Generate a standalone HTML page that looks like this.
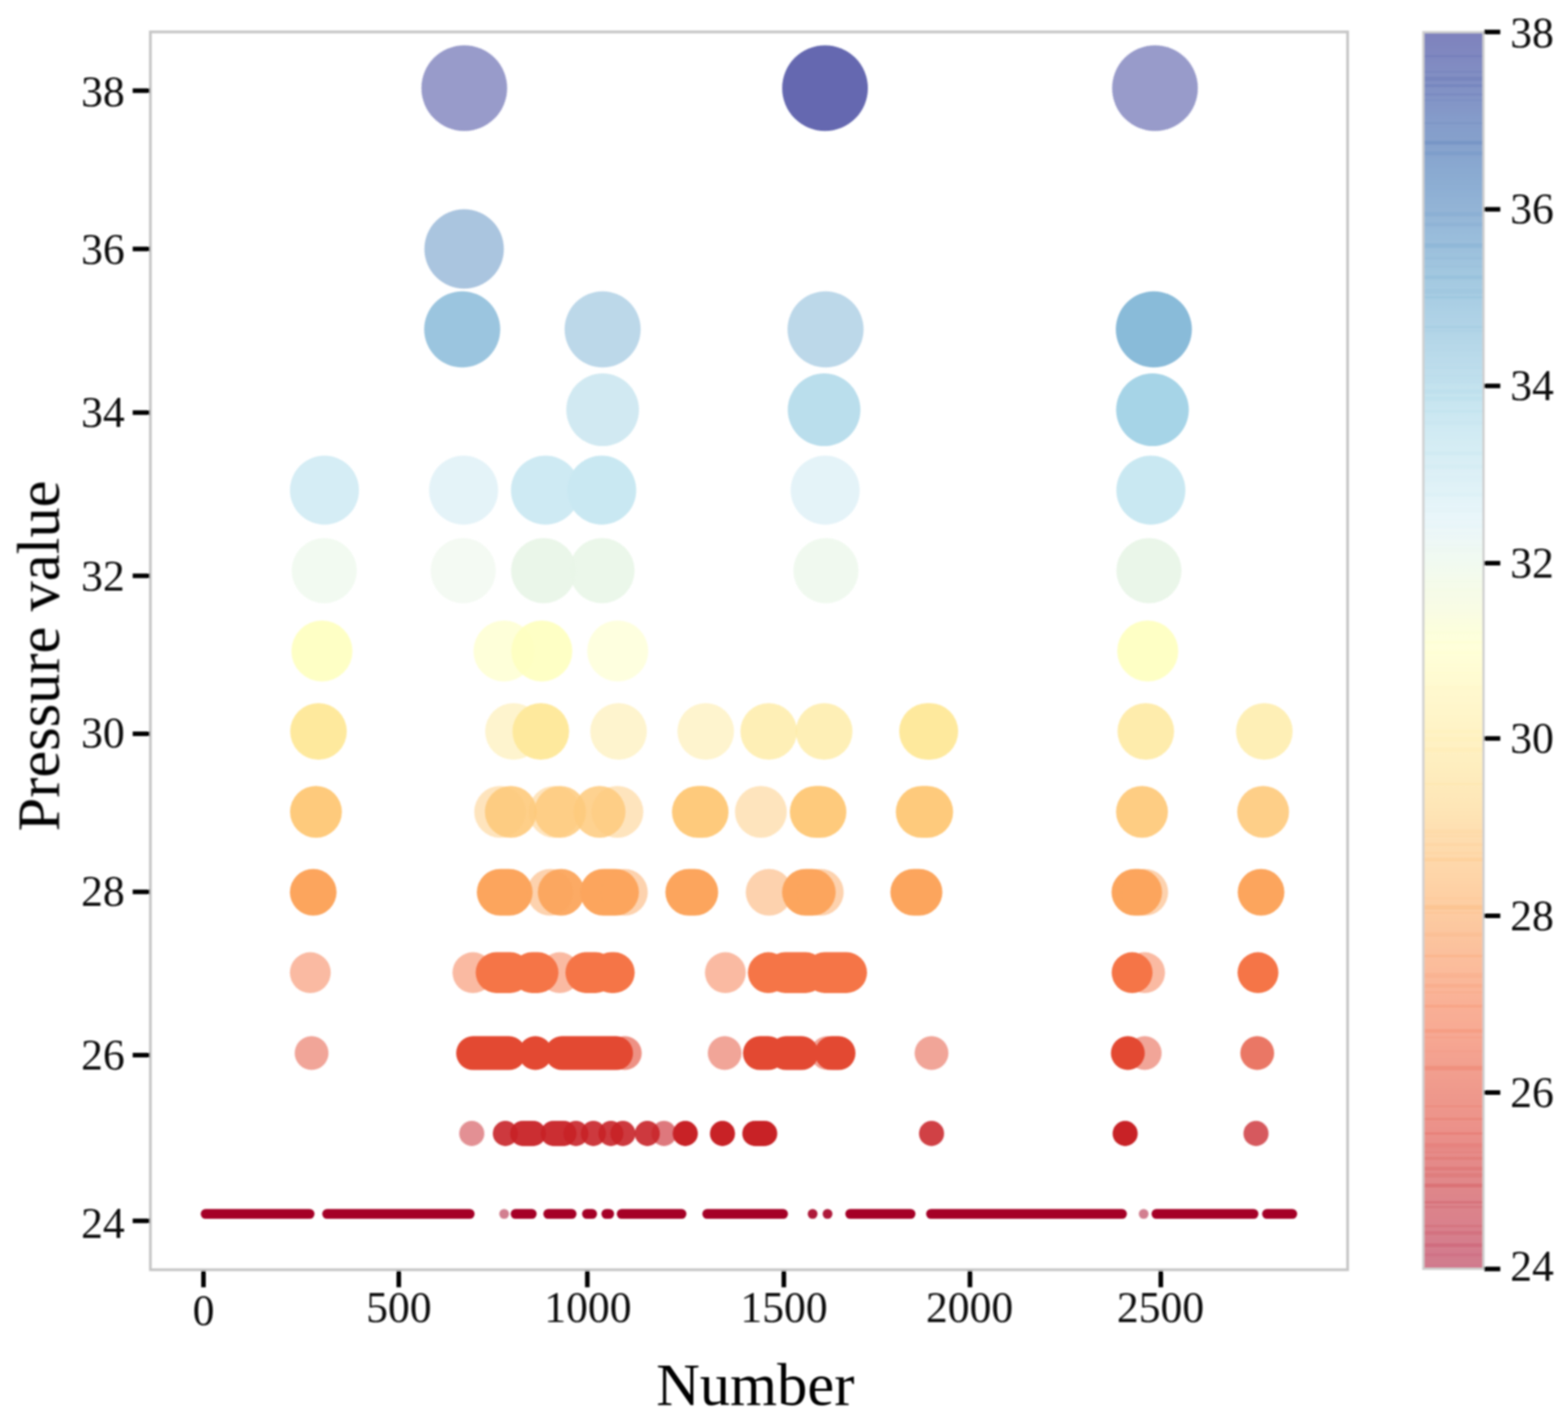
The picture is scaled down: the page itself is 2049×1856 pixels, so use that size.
<!DOCTYPE html>
<html lang="en"><head><meta charset="utf-8"><title>Pressure value scatter</title>
<style>html,body{margin:0;padding:0;background:#fff}body{width:2049px;height:1856px;overflow:hidden}svg{display:block}text{font-family:'Liberation Serif',serif;fill:#111}</style>
</head><body>
<svg width="2049" height="1856" viewBox="0 0 2049 1856">
<defs>
<filter id="b" x="-5%" y="-5%" width="110%" height="110%"><feGaussianBlur stdDeviation="1.1"/></filter>
<filter id="bt" x="-5%" y="-20%" width="110%" height="140%"><feGaussianBlur stdDeviation="1.15"/></filter>
<linearGradient id="cb" x1="0" y1="0" x2="0" y2="1">
<stop offset="0.0000" stop-color="#7f82bd"/>
<stop offset="0.0179" stop-color="#8088c0"/>
<stop offset="0.0357" stop-color="#828fc3"/>
<stop offset="0.0536" stop-color="#8394c6"/>
<stop offset="0.0714" stop-color="#859cca"/>
<stop offset="0.0893" stop-color="#86a1cc"/>
<stop offset="0.1071" stop-color="#89a8d0"/>
<stop offset="0.1250" stop-color="#8daed3"/>
<stop offset="0.1429" stop-color="#93b4d6"/>
<stop offset="0.1607" stop-color="#98bbda"/>
<stop offset="0.1786" stop-color="#9dc1dd"/>
<stop offset="0.1964" stop-color="#a3c8e0"/>
<stop offset="0.2143" stop-color="#a8cde3"/>
<stop offset="0.2321" stop-color="#afd2e6"/>
<stop offset="0.2500" stop-color="#b5d7e8"/>
<stop offset="0.2679" stop-color="#bcdceb"/>
<stop offset="0.2857" stop-color="#c3e2ee"/>
<stop offset="0.3036" stop-color="#c9e6f1"/>
<stop offset="0.3214" stop-color="#d0eaf3"/>
<stop offset="0.3393" stop-color="#d6edf4"/>
<stop offset="0.3571" stop-color="#ddf0f6"/>
<stop offset="0.3750" stop-color="#e2f3f8"/>
<stop offset="0.3929" stop-color="#e9f6fa"/>
<stop offset="0.4107" stop-color="#eef8f6"/>
<stop offset="0.4286" stop-color="#f1faf1"/>
<stop offset="0.4464" stop-color="#f5fbea"/>
<stop offset="0.4643" stop-color="#f8fce5"/>
<stop offset="0.4821" stop-color="#fcfede"/>
<stop offset="0.5000" stop-color="#ffffd9"/>
<stop offset="0.5179" stop-color="#fffcd3"/>
<stop offset="0.5357" stop-color="#fff8ce"/>
<stop offset="0.5536" stop-color="#fff5c9"/>
<stop offset="0.5714" stop-color="#fff2c4"/>
<stop offset="0.5893" stop-color="#feefc0"/>
<stop offset="0.6071" stop-color="#feeabb"/>
<stop offset="0.6250" stop-color="#fee6b7"/>
<stop offset="0.6429" stop-color="#fee0b2"/>
<stop offset="0.6607" stop-color="#fedaac"/>
<stop offset="0.6786" stop-color="#fed6a9"/>
<stop offset="0.6964" stop-color="#fed0a4"/>
<stop offset="0.7143" stop-color="#fdcba1"/>
<stop offset="0.7321" stop-color="#fcc49e"/>
<stop offset="0.7500" stop-color="#fbbe9c"/>
<stop offset="0.7679" stop-color="#fab799"/>
<stop offset="0.7857" stop-color="#f9b096"/>
<stop offset="0.8036" stop-color="#f8ab94"/>
<stop offset="0.8214" stop-color="#f5a491"/>
<stop offset="0.8393" stop-color="#f29f8f"/>
<stop offset="0.8571" stop-color="#ef998c"/>
<stop offset="0.8750" stop-color="#ed958b"/>
<stop offset="0.8929" stop-color="#ea8f89"/>
<stop offset="0.9107" stop-color="#e58b89"/>
<stop offset="0.9286" stop-color="#e1888a"/>
<stop offset="0.9464" stop-color="#dc848b"/>
<stop offset="0.9643" stop-color="#d9818c"/>
<stop offset="0.9821" stop-color="#d47d8d"/>
<stop offset="1.0000" stop-color="#d07a8e"/>
</linearGradient>
</defs>
<rect width="2049" height="1856" fill="#fff"/>
<g filter="url(#b)">
<rect x="196.5" y="41.7" width="1564.5" height="1617.9" fill="none" stroke="#c6c6c6" stroke-width="3.6"/>
<g fill="#a50026">
<rect x="262.3" y="1580.2" width="148.7" height="12.8" rx="6.4" fill-opacity="1.00"/>
<rect x="421.1" y="1580.2" width="199.1" height="12.8" rx="6.4" fill-opacity="1.00"/>
<circle cx="658.8" cy="1586.6" r="6.4" fill-opacity="0.50"/>
<rect x="667.3" y="1580.2" width="34.0" height="12.8" rx="6.4" fill-opacity="1.00"/>
<rect x="710.0" y="1580.2" width="43.4" height="12.8" rx="6.4" fill-opacity="1.00"/>
<rect x="760.6" y="1580.2" width="19.6" height="12.8" rx="6.4" fill-opacity="1.00"/>
<rect x="785.9" y="1580.2" width="16.6" height="12.8" rx="6.4" fill-opacity="1.00"/>
<rect x="806.0" y="1580.2" width="91.0" height="12.8" rx="6.4" fill-opacity="1.00"/>
<rect x="917.8" y="1580.2" width="111.9" height="12.8" rx="6.4" fill-opacity="1.00"/>
<circle cx="1061.9" cy="1586.6" r="6.4" fill-opacity="0.90"/>
<circle cx="1081.4" cy="1586.6" r="6.4" fill-opacity="0.90"/>
<rect x="1104.6" y="1580.2" width="91.7" height="12.8" rx="6.4" fill-opacity="1.00"/>
<rect x="1210.2" y="1580.2" width="262.4" height="12.8" rx="6.4" fill-opacity="1.00"/>
<circle cx="1494.5" cy="1586.6" r="6.4" fill-opacity="0.50"/>
<rect x="1504.8" y="1580.2" width="139.7" height="12.8" rx="6.4" fill-opacity="1.00"/>
<rect x="1649.3" y="1580.2" width="45.8" height="12.8" rx="6.4" fill-opacity="1.00"/>
</g>
<g fill="#c82227">
<circle cx="616.5" cy="1481.5" r="16.4" fill-opacity="0.50"/>
<circle cx="660.4" cy="1481.5" r="16.4" fill-opacity="0.90"/>
<rect x="666.6" y="1465.1" width="46.8" height="32.8" rx="16.4" fill-opacity="0.95"/>
<rect x="706.6" y="1465.1" width="46.8" height="32.8" rx="16.4" fill-opacity="0.95"/>
<circle cx="752.6" cy="1481.5" r="16.4" fill-opacity="0.90"/>
<circle cx="775.4" cy="1481.5" r="16.4" fill-opacity="0.90"/>
<circle cx="798.3" cy="1481.5" r="16.4" fill-opacity="0.90"/>
<circle cx="814.0" cy="1481.5" r="16.4" fill-opacity="0.90"/>
<circle cx="845.9" cy="1481.5" r="16.4" fill-opacity="0.90"/>
<circle cx="867.7" cy="1481.5" r="16.4" fill-opacity="0.60"/>
<circle cx="895.5" cy="1481.5" r="16.4" fill-opacity="1.00"/>
<circle cx="944.1" cy="1481.5" r="16.4" fill-opacity="1.00"/>
<rect x="970.0" y="1465.1" width="45.7" height="32.8" rx="16.4" fill-opacity="1.00"/>
<circle cx="1217.3" cy="1481.5" r="16.4" fill-opacity="0.85"/>
<circle cx="1470.3" cy="1481.5" r="16.4" fill-opacity="1.00"/>
<circle cx="1641.3" cy="1481.5" r="16.4" fill-opacity="0.75"/>
</g>
<g fill="#e34933">
<circle cx="407.2" cy="1376.4" r="22.1" fill-opacity="0.50"/>
<rect x="596.1" y="1354.3" width="90.9" height="44.3" rx="22.1" fill-opacity="1.00"/>
<circle cx="699.6" cy="1376.4" r="22.1" fill-opacity="1.00"/>
<rect x="712.3" y="1354.3" width="114.9" height="44.3" rx="22.1" fill-opacity="1.00"/>
<circle cx="816.5" cy="1376.4" r="22.1" fill-opacity="0.60"/>
<circle cx="947.0" cy="1376.4" r="22.1" fill-opacity="0.50"/>
<rect x="970.9" y="1354.3" width="55.1" height="44.3" rx="22.1" fill-opacity="1.00"/>
<rect x="1005.2" y="1354.3" width="64.3" height="44.3" rx="22.1" fill-opacity="1.00"/>
<circle cx="1081.0" cy="1376.4" r="22.1" fill-opacity="0.50"/>
<rect x="1064.9" y="1354.3" width="53.0" height="44.3" rx="22.1" fill-opacity="1.00"/>
<circle cx="1217.3" cy="1376.4" r="22.1" fill-opacity="0.50"/>
<circle cx="1473.8" cy="1376.4" r="22.1" fill-opacity="1.00"/>
<circle cx="1495.9" cy="1376.4" r="22.1" fill-opacity="0.50"/>
<circle cx="1642.9" cy="1376.4" r="22.1" fill-opacity="0.75"/>
</g>
<g fill="#f57547">
<circle cx="405.5" cy="1271.3" r="26.7" fill-opacity="0.50"/>
<circle cx="618.0" cy="1271.3" r="26.7" fill-opacity="0.50"/>
<rect x="621.6" y="1244.6" width="72.0" height="53.3" rx="26.7" fill-opacity="1.00"/>
<rect x="668.4" y="1244.6" width="61.4" height="53.3" rx="26.7" fill-opacity="1.00"/>
<circle cx="731.5" cy="1271.3" r="26.7" fill-opacity="0.50"/>
<rect x="738.9" y="1244.6" width="66.2" height="53.3" rx="26.7" fill-opacity="1.00"/>
<rect x="772.0" y="1244.6" width="57.4" height="53.3" rx="26.7" fill-opacity="1.00"/>
<circle cx="947.9" cy="1271.3" r="26.7" fill-opacity="0.50"/>
<circle cx="1004.0" cy="1271.3" r="26.7" fill-opacity="1.00"/>
<rect x="999.3" y="1244.6" width="80.1" height="53.3" rx="26.7" fill-opacity="1.00"/>
<rect x="1050.9" y="1244.6" width="82.1" height="53.3" rx="26.7" fill-opacity="1.00"/>
<circle cx="1479.4" cy="1271.3" r="26.7" fill-opacity="1.00"/>
<circle cx="1495.7" cy="1271.3" r="26.7" fill-opacity="0.50"/>
<circle cx="1643.9" cy="1271.3" r="26.7" fill-opacity="1.00"/>
</g>
<g fill="#fca55d">
<circle cx="409.3" cy="1166.2" r="30.5" fill-opacity="1.00"/>
<rect x="623.1" y="1135.7" width="72.9" height="61.0" rx="30.5" fill-opacity="1.00"/>
<circle cx="719.0" cy="1166.2" r="30.5" fill-opacity="0.50"/>
<circle cx="733.3" cy="1166.2" r="30.5" fill-opacity="0.95"/>
<rect x="758.0" y="1135.7" width="76.9" height="61.0" rx="30.5" fill-opacity="1.00"/>
<circle cx="816.0" cy="1166.2" r="30.5" fill-opacity="0.50"/>
<rect x="869.5" y="1135.7" width="69.0" height="61.0" rx="30.5" fill-opacity="1.00"/>
<circle cx="1005.0" cy="1166.2" r="30.5" fill-opacity="0.50"/>
<rect x="1022.0" y="1135.7" width="70.0" height="61.0" rx="30.5" fill-opacity="1.00"/>
<circle cx="1072.0" cy="1166.2" r="30.5" fill-opacity="0.50"/>
<rect x="1163.5" y="1135.7" width="68.0" height="61.0" rx="30.5" fill-opacity="1.00"/>
<rect x="1452.5" y="1135.7" width="66.0" height="61.0" rx="30.5" fill-opacity="1.00"/>
<circle cx="1496.0" cy="1166.2" r="30.5" fill-opacity="0.50"/>
<circle cx="1647.9" cy="1166.2" r="30.5" fill-opacity="1.00"/>
</g>
<g fill="#feca7c">
<circle cx="412.9" cy="1061.1" r="33.9" fill-opacity="1.00"/>
<circle cx="653.6" cy="1061.1" r="33.9" fill-opacity="0.50"/>
<circle cx="667.5" cy="1061.1" r="33.9" fill-opacity="0.90"/>
<circle cx="724.6" cy="1061.1" r="33.9" fill-opacity="0.50"/>
<circle cx="732.0" cy="1061.1" r="33.9" fill-opacity="0.85"/>
<circle cx="783.5" cy="1061.1" r="33.9" fill-opacity="0.85"/>
<circle cx="806.8" cy="1061.1" r="33.9" fill-opacity="0.50"/>
<rect x="878.1" y="1027.2" width="73.9" height="67.9" rx="33.9" fill-opacity="1.00"/>
<circle cx="994.3" cy="1061.1" r="33.9" fill-opacity="0.50"/>
<rect x="1032.1" y="1027.2" width="73.9" height="67.9" rx="33.9" fill-opacity="1.00"/>
<rect x="1170.6" y="1027.2" width="74.9" height="67.9" rx="33.9" fill-opacity="1.00"/>
<circle cx="1492.3" cy="1061.1" r="33.9" fill-opacity="0.95"/>
<circle cx="1650.6" cy="1061.1" r="33.9" fill-opacity="0.90"/>
</g>
<g fill="#fee99d">
<circle cx="416.2" cy="956.0" r="37.0" fill-opacity="1.00"/>
<circle cx="671.0" cy="956.0" r="37.0" fill-opacity="0.50"/>
<circle cx="706.7" cy="956.0" r="37.0" fill-opacity="1.00"/>
<circle cx="808.3" cy="956.0" r="37.0" fill-opacity="0.50"/>
<circle cx="922.2" cy="956.0" r="37.0" fill-opacity="0.50"/>
<circle cx="1004.5" cy="956.0" r="37.0" fill-opacity="0.75"/>
<circle cx="1077.0" cy="956.0" r="37.0" fill-opacity="0.75"/>
<rect x="1175.0" y="919.0" width="77.1" height="74.1" rx="37.0" fill-opacity="1.00"/>
<circle cx="1497.3" cy="956.0" r="37.0" fill-opacity="0.85"/>
<circle cx="1652.2" cy="956.0" r="37.0" fill-opacity="0.75"/>
</g>
<g fill="#feffc0">
<circle cx="420.7" cy="850.9" r="39.9" fill-opacity="0.92"/>
<circle cx="658.6" cy="850.9" r="39.9" fill-opacity="0.60"/>
<circle cx="708.0" cy="850.9" r="39.9" fill-opacity="0.92"/>
<circle cx="807.2" cy="850.9" r="39.9" fill-opacity="0.50"/>
<circle cx="1499.8" cy="850.9" r="39.9" fill-opacity="0.92"/>
</g>
<g fill="#e9f6e8">
<circle cx="423.7" cy="745.8" r="42.6" fill-opacity="0.60"/>
<circle cx="605.3" cy="745.8" r="42.6" fill-opacity="0.50"/>
<circle cx="710.4" cy="745.8" r="42.6" fill-opacity="0.95"/>
<circle cx="786.7" cy="745.8" r="42.6" fill-opacity="0.90"/>
<circle cx="1079.3" cy="745.8" r="42.6" fill-opacity="0.70"/>
<circle cx="1501.4" cy="745.8" r="42.6" fill-opacity="0.95"/>
</g>
<g fill="#c9e8f2">
<circle cx="424.0" cy="640.7" r="45.1" fill-opacity="0.78"/>
<circle cx="605.8" cy="640.7" r="45.1" fill-opacity="0.50"/>
<circle cx="712.8" cy="640.7" r="45.1" fill-opacity="0.90"/>
<circle cx="786.3" cy="640.7" r="45.1" fill-opacity="1.00"/>
<circle cx="1078.3" cy="640.7" r="45.1" fill-opacity="0.50"/>
<circle cx="1503.9" cy="640.7" r="45.1" fill-opacity="1.00"/>
</g>
<g fill="#a3d3e6">
<circle cx="787.5" cy="535.6" r="47.5" fill-opacity="0.50"/>
<circle cx="1076.9" cy="535.6" r="47.5" fill-opacity="0.75"/>
<circle cx="1506.0" cy="535.6" r="47.5" fill-opacity="0.97"/>
</g>
<g fill="#7ab2d4">
<circle cx="604.0" cy="430.5" r="49.7" fill-opacity="0.75"/>
<circle cx="787.5" cy="430.5" r="49.7" fill-opacity="0.50"/>
<circle cx="1078.8" cy="430.5" r="49.7" fill-opacity="0.50"/>
<circle cx="1507.8" cy="430.5" r="49.7" fill-opacity="0.88"/>
</g>
<g fill="#588cc0">
<circle cx="606.5" cy="325.4" r="51.9" fill-opacity="0.50"/>
</g>
<g fill="#313695">
<circle cx="606.7" cy="115.2" r="56.0" fill-opacity="0.50"/>
<circle cx="1078.1" cy="115.2" r="56.0" fill-opacity="0.75"/>
<circle cx="1509.3" cy="115.2" r="56.0" fill-opacity="0.50"/>
</g>
<rect x="1860.0" y="42.0" width="78.6" height="1616.5" fill="url(#cb)" stroke="#cfcfcf" stroke-width="3"/>
<rect x="1861.5" y="72.0" width="75.6" height="3.0" fill="#34409a" fill-opacity="0.10"/>
<rect x="1861.5" y="93.0" width="75.6" height="2.0" fill="#374a9f" fill-opacity="0.10"/>
<rect x="1861.5" y="100.0" width="75.6" height="6.0" fill="#384ca0" fill-opacity="0.13"/>
<rect x="1861.5" y="110.0" width="75.6" height="4.0" fill="#394fa1" fill-opacity="0.14"/>
<rect x="1861.5" y="122.0" width="75.6" height="3.0" fill="#3a54a4" fill-opacity="0.12"/>
<rect x="1861.5" y="130.0" width="75.6" height="2.0" fill="#3b56a5" fill-opacity="0.07"/>
<rect x="1861.5" y="160.0" width="75.6" height="2.0" fill="#3f62ab" fill-opacity="0.13"/>
<rect x="1861.5" y="184.0" width="75.6" height="5.0" fill="#426cb0" fill-opacity="0.20"/>
<rect x="1861.5" y="198.0" width="75.6" height="5.0" fill="#4471b2" fill-opacity="0.12"/>
<rect x="1861.5" y="277.0" width="75.6" height="6.0" fill="#5a8ec1" fill-opacity="0.13"/>
<rect x="1861.5" y="291.0" width="75.6" height="5.0" fill="#5e93c3" fill-opacity="0.11"/>
<rect x="1861.5" y="318.0" width="75.6" height="6.0" fill="#659bc8" fill-opacity="0.19"/>
<rect x="1861.5" y="336.0" width="75.6" height="3.0" fill="#6ba2cb" fill-opacity="0.11"/>
<rect x="1861.5" y="347.0" width="75.6" height="3.0" fill="#6ea6ce" fill-opacity="0.08"/>
<rect x="1861.5" y="360.0" width="75.6" height="5.0" fill="#72abd0" fill-opacity="0.19"/>
<rect x="1861.5" y="378.0" width="75.6" height="6.0" fill="#78b0d3" fill-opacity="0.12"/>
<rect x="1861.5" y="387.0" width="75.6" height="3.0" fill="#7ab2d4" fill-opacity="0.19"/>
<rect x="1861.5" y="426.0" width="75.6" height="3.0" fill="#87bdd9" fill-opacity="0.20"/>
<rect x="1861.5" y="431.0" width="75.6" height="3.0" fill="#8abeda" fill-opacity="0.13"/>
<rect x="1861.5" y="456.0" width="75.6" height="2.0" fill="#92c5de" fill-opacity="0.06"/>
<rect x="1861.5" y="479.0" width="75.6" height="3.0" fill="#9bcce2" fill-opacity="0.06"/>
<rect x="1861.5" y="490.0" width="75.6" height="2.0" fill="#9dcee3" fill-opacity="0.14"/>
<rect x="1861.5" y="493.0" width="75.6" height="4.0" fill="#9fd0e4" fill-opacity="0.07"/>
<rect x="1861.5" y="498.0" width="75.6" height="3.0" fill="#a1d1e5" fill-opacity="0.06"/>
<rect x="1861.5" y="509.0" width="75.6" height="6.0" fill="#a3d3e6" fill-opacity="0.19"/>
<rect x="1861.5" y="518.0" width="75.6" height="6.0" fill="#a8d6e8" fill-opacity="0.18"/>
<rect x="1861.5" y="536.0" width="75.6" height="3.0" fill="#aedbea" fill-opacity="0.20"/>
<rect x="1861.5" y="550.0" width="75.6" height="5.0" fill="#b2ddeb" fill-opacity="0.12"/>
<rect x="1861.5" y="590.0" width="75.6" height="5.0" fill="#bfe3ef" fill-opacity="0.21"/>
<rect x="1861.5" y="607.0" width="75.6" height="6.0" fill="#c5e6f0" fill-opacity="0.19"/>
<rect x="1861.5" y="622.0" width="75.6" height="3.0" fill="#c9e8f2" fill-opacity="0.05"/>
<rect x="1861.5" y="626.0" width="75.6" height="4.0" fill="#cbe9f2" fill-opacity="0.05"/>
<rect x="1861.5" y="644.0" width="75.6" height="5.0" fill="#d1ecf4" fill-opacity="0.22"/>
<rect x="1861.5" y="664.0" width="75.6" height="6.0" fill="#d8eff6" fill-opacity="0.07"/>
<rect x="1861.5" y="678.0" width="75.6" height="2.0" fill="#dcf1f7" fill-opacity="0.12"/>
<rect x="1861.5" y="685.0" width="75.6" height="5.0" fill="#def2f7" fill-opacity="0.17"/>
<rect x="1861.5" y="695.0" width="75.6" height="4.0" fill="#e1f3f6" fill-opacity="0.13"/>
<rect x="1861.5" y="700.0" width="75.6" height="6.0" fill="#e2f4f4" fill-opacity="0.15"/>
<rect x="1861.5" y="711.0" width="75.6" height="3.0" fill="#e4f4f1" fill-opacity="0.17"/>
<rect x="1861.5" y="715.0" width="75.6" height="6.0" fill="#e5f5ef" fill-opacity="0.16"/>
<rect x="1861.5" y="759.0" width="75.6" height="2.0" fill="#edf8df" fill-opacity="0.22"/>
<rect x="1861.5" y="769.0" width="75.6" height="5.0" fill="#f0f9db" fill-opacity="0.08"/>
<rect x="1861.5" y="825.0" width="75.6" height="3.0" fill="#fbfdc7" fill-opacity="0.18"/>
<rect x="1861.5" y="838.0" width="75.6" height="3.0" fill="#fdfec2" fill-opacity="0.21"/>
<rect x="1861.5" y="851.0" width="75.6" height="4.0" fill="#fffebe" fill-opacity="0.10"/>
<rect x="1861.5" y="868.0" width="75.6" height="2.0" fill="#fffcba" fill-opacity="0.06"/>
<rect x="1861.5" y="878.0" width="75.6" height="3.0" fill="#fffab7" fill-opacity="0.09"/>
<rect x="1861.5" y="896.0" width="75.6" height="6.0" fill="#fff6b1" fill-opacity="0.06"/>
<rect x="1861.5" y="954.0" width="75.6" height="4.0" fill="#feeba1" fill-opacity="0.16"/>
<rect x="1861.5" y="963.0" width="75.6" height="6.0" fill="#feea9f" fill-opacity="0.11"/>
<rect x="1861.5" y="977.0" width="75.6" height="6.0" fill="#fee699" fill-opacity="0.16"/>
<rect x="1861.5" y="1023.0" width="75.6" height="3.0" fill="#fedc8c" fill-opacity="0.14"/>
<rect x="1861.5" y="1084.0" width="75.6" height="6.0" fill="#fec87a" fill-opacity="0.13"/>
<rect x="1861.5" y="1092.0" width="75.6" height="2.0" fill="#fdc778" fill-opacity="0.14"/>
<rect x="1861.5" y="1102.0" width="75.6" height="4.0" fill="#fdc576" fill-opacity="0.13"/>
<rect x="1861.5" y="1114.0" width="75.6" height="2.0" fill="#fdc173" fill-opacity="0.13"/>
<rect x="1861.5" y="1121.0" width="75.6" height="5.0" fill="#fdbf71" fill-opacity="0.21"/>
<rect x="1861.5" y="1173.0" width="75.6" height="2.0" fill="#fdad60" fill-opacity="0.10"/>
<rect x="1861.5" y="1183.0" width="75.6" height="6.0" fill="#fcaa5f" fill-opacity="0.22"/>
<rect x="1861.5" y="1192.0" width="75.6" height="2.0" fill="#fca55d" fill-opacity="0.14"/>
<rect x="1861.5" y="1219.0" width="75.6" height="5.0" fill="#fa9b58" fill-opacity="0.11"/>
<rect x="1861.5" y="1248.0" width="75.6" height="3.0" fill="#f99153" fill-opacity="0.20"/>
<rect x="1861.5" y="1272.0" width="75.6" height="6.0" fill="#f8864f" fill-opacity="0.11"/>
<rect x="1861.5" y="1286.0" width="75.6" height="5.0" fill="#f67f4b" fill-opacity="0.12"/>
<rect x="1861.5" y="1296.0" width="75.6" height="2.0" fill="#f67c4a" fill-opacity="0.11"/>
<rect x="1861.5" y="1313.0" width="75.6" height="4.0" fill="#f57547" fill-opacity="0.17"/>
<rect x="1861.5" y="1345.0" width="75.6" height="5.0" fill="#f26841" fill-opacity="0.16"/>
<rect x="1861.5" y="1355.0" width="75.6" height="2.0" fill="#f16640" fill-opacity="0.09"/>
<rect x="1861.5" y="1373.0" width="75.6" height="2.0" fill="#ed5f3c" fill-opacity="0.05"/>
<rect x="1861.5" y="1393.0" width="75.6" height="6.0" fill="#ea5739" fill-opacity="0.19"/>
<rect x="1861.5" y="1445.0" width="75.6" height="2.0" fill="#e0422f" fill-opacity="0.13"/>
<rect x="1861.5" y="1461.0" width="75.6" height="3.0" fill="#dd3d2d" fill-opacity="0.14"/>
<rect x="1861.5" y="1480.0" width="75.6" height="3.0" fill="#da362a" fill-opacity="0.17"/>
<rect x="1861.5" y="1494.0" width="75.6" height="6.0" fill="#d83128" fill-opacity="0.10"/>
<rect x="1861.5" y="1501.0" width="75.6" height="2.0" fill="#d42d27" fill-opacity="0.06"/>
<rect x="1861.5" y="1505.0" width="75.6" height="2.0" fill="#d42d27" fill-opacity="0.11"/>
<rect x="1861.5" y="1512.0" width="75.6" height="4.0" fill="#d22b27" fill-opacity="0.13"/>
<rect x="1861.5" y="1525.0" width="75.6" height="5.0" fill="#ce2827" fill-opacity="0.14"/>
<rect x="1861.5" y="1533.0" width="75.6" height="6.0" fill="#ca2427" fill-opacity="0.11"/>
<rect x="1861.5" y="1547.0" width="75.6" height="5.0" fill="#c62027" fill-opacity="0.20"/>
<rect x="1861.5" y="1570.0" width="75.6" height="3.0" fill="#c01a27" fill-opacity="0.18"/>
<rect x="1861.5" y="1576.0" width="75.6" height="3.0" fill="#be1827" fill-opacity="0.10"/>
<rect x="1861.5" y="1601.0" width="75.6" height="3.0" fill="#b71126" fill-opacity="0.11"/>
<rect x="1861.5" y="1609.0" width="75.6" height="5.0" fill="#b30d26" fill-opacity="0.11"/>
<rect x="1861.5" y="1625.0" width="75.6" height="5.0" fill="#af0926" fill-opacity="0.13"/>
<rect x="1861.5" y="1638.0" width="75.6" height="4.0" fill="#ab0626" fill-opacity="0.07"/>
<g stroke="#000" stroke-width="6" stroke-linecap="butt">
<line x1="173.4" y1="118.5" x2="195.5" y2="118.5"/>
<line x1="173.4" y1="325.4" x2="195.5" y2="325.4"/>
<line x1="173.4" y1="539.3" x2="195.5" y2="539.3"/>
<line x1="173.4" y1="752.6" x2="195.5" y2="752.6"/>
<line x1="173.4" y1="959.1" x2="195.5" y2="959.1"/>
<line x1="173.4" y1="1165.7" x2="195.5" y2="1165.7"/>
<line x1="173.4" y1="1379.1" x2="195.5" y2="1379.1"/>
<line x1="173.4" y1="1595.7" x2="195.5" y2="1595.7"/>
<line x1="265.9" y1="1661.0" x2="265.9" y2="1682.5"/>
<line x1="521.1" y1="1661.0" x2="521.1" y2="1682.5"/>
<line x1="767.5" y1="1661.0" x2="767.5" y2="1682.5"/>
<line x1="1024.3" y1="1661.0" x2="1024.3" y2="1682.5"/>
<line x1="1267.5" y1="1661.0" x2="1267.5" y2="1682.5"/>
<line x1="1516.9" y1="1661.0" x2="1516.9" y2="1682.5"/>
<line x1="1939.5" y1="41.8" x2="1960.5" y2="41.8"/>
<line x1="1939.5" y1="273.6" x2="1960.5" y2="273.6"/>
<line x1="1939.5" y1="504.4" x2="1960.5" y2="504.4"/>
<line x1="1939.5" y1="736.1" x2="1960.5" y2="736.1"/>
<line x1="1939.5" y1="965.2" x2="1960.5" y2="965.2"/>
<line x1="1939.5" y1="1197.0" x2="1960.5" y2="1197.0"/>
<line x1="1939.5" y1="1428.0" x2="1960.5" y2="1428.0"/>
<line x1="1939.5" y1="1658.6" x2="1960.5" y2="1658.6"/>
</g>
</g>
<g filter="url(#bt)" font-size="57">
<text x="163.0" y="138.6" text-anchor="end">38</text>
<text x="163.0" y="345.0" text-anchor="end">36</text>
<text x="163.0" y="558.2" text-anchor="end">34</text>
<text x="163.0" y="772.0" text-anchor="end">32</text>
<text x="163.0" y="977.4" text-anchor="end">30</text>
<text x="163.0" y="1183.8" text-anchor="end">28</text>
<text x="163.0" y="1397.8" text-anchor="end">26</text>
<text x="163.0" y="1617.6" text-anchor="end">24</text>
<text x="265.9" y="1731.6" text-anchor="middle">0</text>
<text x="521.3" y="1728.4" text-anchor="middle">500</text>
<text x="768.2" y="1728.4" text-anchor="middle">1000</text>
<text x="1024.6" y="1728.4" text-anchor="middle">1500</text>
<text x="1267.0" y="1728.4" text-anchor="middle">2000</text>
<text x="1516.5" y="1728.4" text-anchor="middle">2500</text>
<text x="1973.5" y="61.6">38</text>
<text x="1973.5" y="291.9">36</text>
<text x="1973.5" y="522.6">34</text>
<text x="1973.5" y="755.4">32</text>
<text x="1973.5" y="984.2">30</text>
<text x="1973.5" y="1216.0">28</text>
<text x="1973.5" y="1447.0">26</text>
<text x="1973.5" y="1674.3">24</text>
</g>
<g filter="url(#bt)" font-size="79" fill="#000">
<text x="987.0" y="1835.5" text-anchor="middle" style="fill:#000">Number</text>
<text transform="translate(76.6 857.4) rotate(-90)" text-anchor="middle" style="fill:#000">Pressure value</text>
</g>
</svg></body></html>
